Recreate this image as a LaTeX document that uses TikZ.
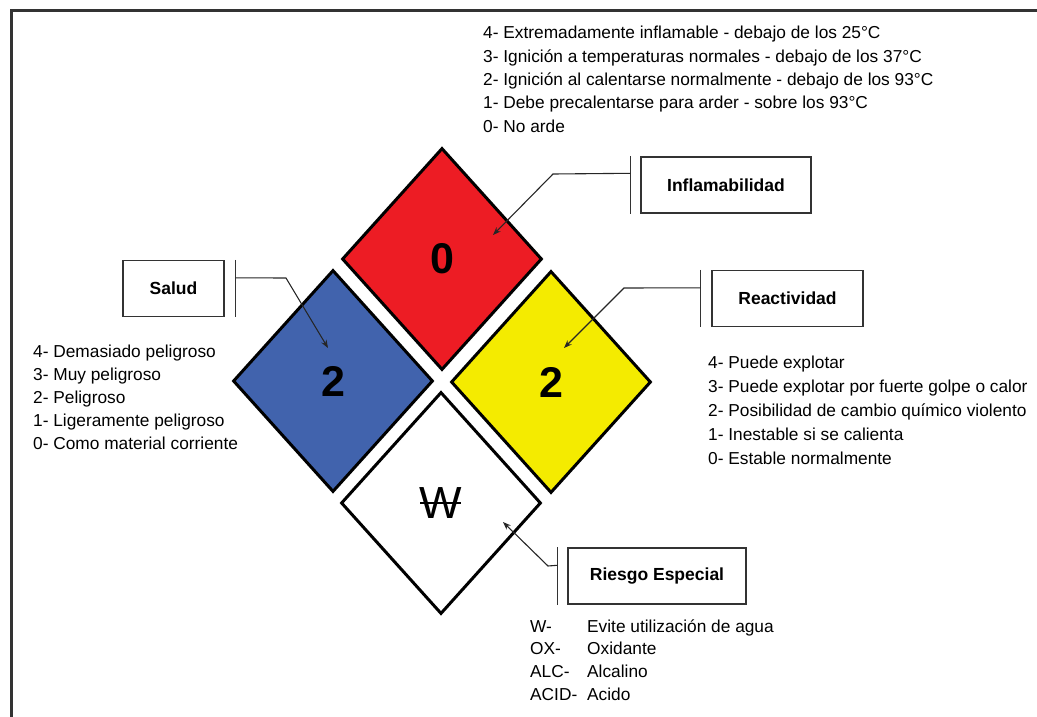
\documentclass[tikz,border=0pt]{standalone}
\usepackage{fontspec}
\setmainfont{Liberation Sans}
\usetikzlibrary{shapes.geometric, arrows.meta, positioning, calc}
\definecolor{flamred}{HTML}{ED1C24}
\definecolor{healthblue}{HTML}{4163AD}
\definecolor{reactyellow}{HTML}{F4EB00}
\tikzset{
	hazard/.style={diamond, draw=black, line width=3pt, inner sep=0pt,
			minimum width=200pt, minimum height=222pt,
			font=\bfseries\fontsize{43}{43}\selectfont}
}
\tikzset{
	labelbox/.style={draw=black!80, line width=1.4pt, inner sep=0pt,
			minimum height=56pt, font=\bfseries\fontsize{17.5}{20}\selectfont}
}
\tikzset{
	legendtext/.style={anchor=base west, inner sep=0pt, font=\fontsize{17.3}{20}\selectfont}
}
\tikzset{
	pointer/.style={draw=black!85, line width=1.1pt, -{Stealth[length=8pt,width=6pt]}}
}
\tikzset{
	stopbar/.style={draw=black!80, line width=1.4pt}
}

\begin{document}
\begin{tikzpicture}[x=1pt, y=-1pt]

			\useasboundingbox (0,0) rectangle (1037,717);
			\draw[line width=3pt, black!80] (1037,11) -- (11,11) -- (11,717);

			% the four squares of the diamond
			\node[hazard, fill=flamred] (flam) at (442,259) {0};
			\node[hazard, fill=healthblue] (health) at (333,381) {2};
			\node[hazard, fill=reactyellow] (react) at (551,382) {2};
			\node[hazard, fill=white, font=\fontsize{45}{45}\selectfont] (special) at (441,503) {W};
			\draw[line width=2.6pt] ([xshift=-21pt]special.center) -- ([xshift=20pt]special.center);

			% label boxes
			\node[labelbox, minimum width=170pt] (flamBox) at (726,185) {Inflamabilidad};
			\node[labelbox, minimum width=101pt] (healthBox) at (173.5,288.5) {Salud};
			\node[labelbox, minimum width=151pt] (reactBox) at (787.5,298.5) {Reactividad};
			\node[labelbox, minimum width=178pt] (specialBox) at (657,576) {Riesgo Especial};

			\begin{scope}
				\draw[stopbar] ([xshift=-10pt]flamBox.north west) -- ([xshift=-10pt]flamBox.south west);
				\draw[stopbar] ([xshift=11pt]healthBox.north east) -- ([xshift=11pt]healthBox.south east);
				\draw[stopbar] ([xshift=-11pt]reactBox.north west) -- ([xshift=-11pt]reactBox.south west);
				\draw[stopbar] ([xshift=-10pt]specialBox.north west) -- ([xshift=-10pt]specialBox.south west);

				\coordinate (flamBar) at ([xshift=-10pt, yshift=-17pt]flamBox.north west);
				\coordinate (healthBar) at ([xshift=11pt, yshift=-18pt]healthBox.north east);
				\coordinate (reactBar) at ([xshift=-11pt, yshift=-18pt]reactBox.north west);
				\coordinate (specialBar) at ([xshift=-10pt, yshift=-18pt]specialBox.north west);

				\coordinate (flamKnee) at (553,174);
				\coordinate (healthKnee) at (286,278);
				\coordinate (reactKnee) at (624,288);
				\coordinate (specialKnee) at (548,566);

				\coordinate (flamTip) at (493,235);
				\coordinate (healthTip) at (328,348);
				\coordinate (reactTip) at (564,348);
				\coordinate (specialTip) at (503,522);

				\draw[pointer] (flamBar) -- (flamKnee) -- (flamTip);
				\draw[pointer] (healthBar) -- (healthKnee) -- (healthTip);
				\draw[pointer] (reactBar) -- (reactKnee) -- (reactTip);
				\draw[pointer] (specialBar) -- (specialKnee) -- (specialTip);
			\end{scope}

			% legends
			\foreach \txt [count=\i] in {
					4- Extremadamente inflamable - debajo de los 25°C,
					3- Ignición a temperaturas normales - debajo de los 37°C,
					2- Ignición al calentarse normalmente - debajo de los 93°C,
					1- Debe precalentarse para arder - sobre los 93°C,
					0- No arde}
				\node[legendtext] (flamLine\i) at (483,{39+23.25*(\i-1)}) {\txt};

			\foreach \txt [count=\i] in {
					4- Demasiado peligroso,
					3- Muy peligroso,
					2- Peligroso,
					1- Ligeramente peligroso,
					0- Como material corriente}
				\node[legendtext] (healthLine\i) at (33,{357+23*(\i-1)}) {\txt};

			\foreach \txt [count=\i] in {
					4- Puede explotar,
					3- Puede explotar por fuerte golpe o calor,
					2- Posibilidad de cambio químico violento,
					1- Inestable si se calienta,
					0- Estable normalmente}
				\node[legendtext] (reactLine\i) at (708,{368+24*(\i-1)}) {\txt};

			\foreach \code/\txt [count=\i] in {
					W-/Evite utilización de agua,
					OX-/Oxidante,
					ALC-/Alcalino,
					ACID-/Acido}
				{
					\node[legendtext] (specialCode\i) at (530,{632+22.7*(\i-1)}) {\code};
					\node[legendtext] (specialLine\i) at (587,{632+22.7*(\i-1)}) {\txt};
				}

		\end{tikzpicture}
\end{document}
